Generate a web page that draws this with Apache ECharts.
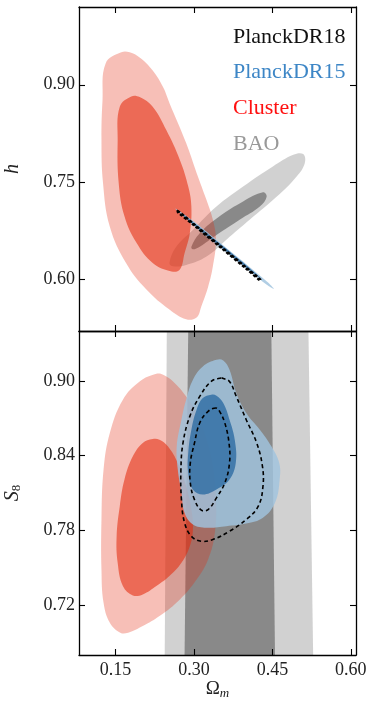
<!DOCTYPE html>
<html><head><meta charset="utf-8">
<script src="https://cdn.jsdelivr.net/npm/echarts@6/dist/echarts.min.js"></script>
<style>html,body{margin:0;padding:0;background:#fff}#c{width:374px;height:701px}</style>
</head><body><div id="c"></div>
<script>
// ---- tick labels ----
const xTicks = [0.15, 0.30, 0.45, 0.60];
const hTicks = [0.60, 0.75, 0.90];
const s8Ticks = [0.72, 0.78, 0.84, 0.90];

// ---- legend ----
const legendNames = ['PlanckDR18', 'PlanckDR15', 'Cluster', 'BAO'];
const legendColors = ['#111111', '#3d86c6', '#ff1010', '#999999'];

// ---- top panel (Omega_m, h) contours ----
const baoH95 = [[0.253,0.625],[0.266,0.650],[0.298,0.676],[0.343,0.712],[0.394,0.743],[0.451,0.774],[0.490,0.792],[0.509,0.793],[0.512,0.779],[0.496,0.758],[0.458,0.727],[0.407,0.692],[0.362,0.661],[0.324,0.635],[0.285,0.622],[0.260,0.620]];
const baoH68 = [[0.295,0.650],[0.311,0.671],[0.349,0.697],[0.394,0.720],[0.432,0.734],[0.439,0.727],[0.426,0.712],[0.388,0.692],[0.343,0.668],[0.311,0.650],[0.298,0.646]];
const clusterH95 = [[0.161,0.950],[0.131,0.933],[0.125,0.876],[0.123,0.815],[0.126,0.748],[0.139,0.681],[0.170,0.625],[0.209,0.584],[0.253,0.553],[0.285,0.538],[0.305,0.541],[0.314,0.558],[0.327,0.588],[0.336,0.619],[0.342,0.661],[0.336,0.692],[0.324,0.722],[0.305,0.764],[0.285,0.810],[0.253,0.872],[0.241,0.896],[0.221,0.922],[0.196,0.942],[0.177,0.950]];
const clusterH68 = [[0.180,0.882],[0.158,0.866],[0.154,0.815],[0.156,0.748],[0.167,0.697],[0.190,0.656],[0.221,0.625],[0.257,0.612],[0.273,0.615],[0.282,0.640],[0.292,0.671],[0.295,0.712],[0.289,0.743],[0.273,0.784],[0.247,0.830],[0.221,0.866],[0.196,0.881]];
const planck15H95 = [[0.264,0.709],[0.300,0.689],[0.350,0.656],[0.400,0.623],[0.440,0.596],[0.453,0.585],[0.440,0.591],[0.400,0.6165],[0.350,0.649],[0.300,0.682]];
const planck15H68 = [[0.275,0.703],[0.300,0.687],[0.350,0.6545],[0.400,0.6215],[0.430,0.600],[0.400,0.618],[0.350,0.6507],[0.300,0.6838]];
const planck18H = [[0.269,0.7055],[0.300,0.6850],[0.350,0.6515],[0.400,0.6180],[0.427,0.5995],[0.427,0.5975],[0.400,0.6160],[0.350,0.6495],[0.300,0.6830],[0.269,0.7035]];

// ---- bottom panel (Omega_m, S8) contours ----
const baoS95 = [[0.248,0.94],[0.519,0.94],[0.528,0.68],[0.244,0.68]];
const baoS68 = [[0.289,0.94],[0.448,0.94],[0.455,0.68],[0.282,0.68]];
const clusterS95 = [[0.228,0.9057],[0.196,0.8995],[0.164,0.8849],[0.139,0.8582],[0.127,0.8288],[0.123,0.7887],[0.123,0.7487],[0.127,0.7220],[0.139,0.7059],[0.159,0.6979],[0.174,0.6979],[0.202,0.7032],[0.234,0.7112],[0.273,0.7246],[0.305,0.7406],[0.327,0.7567],[0.340,0.7781],[0.342,0.8047],[0.336,0.8314],[0.324,0.8528],[0.305,0.8742],[0.285,0.8875],[0.260,0.8995],[0.241,0.9049]];
const clusterS68 = [[0.221,0.8534],[0.202,0.8502],[0.183,0.8394],[0.167,0.8208],[0.158,0.7994],[0.152,0.7753],[0.154,0.7540],[0.164,0.7353],[0.183,0.7278],[0.202,0.7286],[0.228,0.7353],[0.253,0.7433],[0.276,0.7540],[0.292,0.7673],[0.298,0.7807],[0.295,0.7967],[0.285,0.8154],[0.269,0.8342],[0.250,0.8475],[0.234,0.8528]];
const planck15S95 = [[0.343,0.9169],[0.317,0.9116],[0.298,0.9009],[0.285,0.8849],[0.276,0.8688],[0.267,0.8475],[0.269,0.8288],[0.276,0.8101],[0.282,0.7941],[0.298,0.7847],[0.324,0.7821],[0.362,0.7834],[0.400,0.7855],[0.432,0.7901],[0.455,0.8021],[0.464,0.8208],[0.463,0.8342],[0.448,0.8475],[0.426,0.8608],[0.400,0.8742],[0.381,0.8902],[0.368,0.9089],[0.356,0.9164]];
const planck15S68 = [[0.333,0.8889],[0.317,0.8862],[0.305,0.8769],[0.295,0.8608],[0.289,0.8422],[0.289,0.8261],[0.298,0.8128],[0.317,0.8088],[0.343,0.8128],[0.368,0.8208],[0.380,0.8342],[0.378,0.8528],[0.368,0.8688],[0.356,0.8822],[0.343,0.8881]];
const planck18S95 = [[0.352,0.9023],[0.333,0.8995],[0.311,0.8875],[0.292,0.8715],[0.279,0.8502],[0.275,0.8288],[0.276,0.8047],[0.282,0.7861],[0.295,0.7753],[0.314,0.7713],[0.336,0.7727],[0.368,0.7793],[0.400,0.7887],[0.423,0.7994],[0.432,0.8154],[0.431,0.8314],[0.420,0.8502],[0.400,0.8688],[0.381,0.8875],[0.368,0.8995],[0.356,0.9019]];
const planck18S68 = [[0.342,0.8782],[0.327,0.8755],[0.311,0.8662],[0.301,0.8502],[0.293,0.8342],[0.293,0.8181],[0.301,0.8047],[0.314,0.7962],[0.327,0.7967],[0.343,0.8061],[0.359,0.8181],[0.368,0.8342],[0.367,0.8502],[0.359,0.8662],[0.349,0.8755]];

const FONT = 'Liberation Serif';
const STY = {
  bao95: {fill:'rgba(128,128,128,0.36)'},
  bao68: {fill:'rgba(70,70,70,0.52)'},
  cl95: {fill:'rgba(228,44,15,0.30)'},
  cl68: {fill:'rgba(228,44,15,0.58)'},
  p15_95: {fill:'rgba(160,195,222,0.82)'},
  p15_68: {fill:'rgba(45,108,162,0.80)'},
  p18: {fill:null, stroke:'#000', lineWidth:1.6, lineDash:[4,3]},
  p18thin: {fill:null, stroke:'#000', lineWidth:2.2, lineDash:[3,2]}
};

function poly(points, panel, style, smooth) {
  return {
    type: 'custom', silent: true,
    xAxisIndex: panel * 2, yAxisIndex: panel * 2,
    data: points,
    renderItem: function (params, api) {
      if (params.dataIndex !== 0) return null;
      const pts = points.map(p => api.coord(p));
      return {type: 'polygon', shape: {points: pts, smooth: smooth}, style: Object.assign({}, style)};
    }
  };
}

function xAx(grid, pos, labels, name) {
  return {
    type: 'value', gridIndex: grid, position: pos, min: 0.08, max: 0.61, z: 10,
    axisLine: {show: true, onZero: false, lineStyle: {color: '#000', width: 1.3}},
    axisTick: {show: true, inside: true, length: 6, customValues: xTicks, lineStyle: {color: '#000', width: 1.1}},
    axisLabel: {show: labels, customValues: xTicks, margin: 6, color: '#222', fontFamily: FONT, fontSize: 18, formatter: v => v.toFixed(2)},
    splitLine: {show: false},
    name: name || '', nameLocation: 'middle', nameGap: 22,
    nameTextStyle: {rich: {
      o: {fontFamily: FONT, fontSize: 19, color: '#222'},
      m: {fontFamily: FONT, fontSize: 13, fontStyle: 'italic', color: '#222', padding: [8, 0, 0, 0]}
    }}
  };
}
function yAx(grid, pos, labels, min, max, ticks, name, rich) {
  return {
    type: 'value', gridIndex: grid, position: pos, min: min, max: max, z: 10,
    axisLine: {show: true, onZero: false, lineStyle: {color: '#000', width: 1.3}},
    axisTick: {show: true, inside: true, length: 6, customValues: ticks, lineStyle: {color: '#000', width: 1.1}},
    axisLabel: {show: labels, customValues: ticks, margin: 4, color: '#222', fontFamily: FONT, fontSize: 18, formatter: v => v.toFixed(2)},
    splitLine: {show: false},
    name: name || '', nameLocation: 'middle', nameGap: 56, nameRotate: 90,
    nameTextStyle: {rich: rich}
  };
}

const richY = {
  i: {fontFamily: FONT, fontSize: 20, fontStyle: 'italic', color: '#222'},
  s: {fontFamily: FONT, fontSize: 13, color: '#222', padding: [8, 0, 0, 0]}
};

const option = {
  animation: false,
  backgroundColor: '#fff',
  grid: [
    {left: 79, top: 7, width: 277, height: 324, containLabel: false, outerBoundsMode: 'none'},
    {left: 79, top: 331, width: 277, height: 324, containLabel: false, outerBoundsMode: 'none'}
  ],
  xAxis: [
    xAx(0, 'bottom', false), xAx(0, 'top', false),
    xAx(1, 'bottom', true, '{o|Ω}{m|m}'), xAx(1, 'top', false)
  ],
  yAxis: [
    yAx(0, 'left', true, 0.52, 1.02, hTicks, '{i|h}', richY), yAx(0, 'right', false, 0.52, 1.02, hTicks),
    yAx(1, 'left', true, 0.68, 0.94, s8Ticks, '{i|S}{s|8}', richY), yAx(1, 'right', false, 0.68, 0.94, s8Ticks)
  ],
  graphic: legendNames.map((n, i) => ({
    type: 'text', left: 233, top: [38, 73, 109.5, 145][i] - 12,
    style: {text: n, fill: legendColors[i], font: '22px "' + FONT + '"'}
  })),
  series: [
    poly(baoH95, 0, STY.bao95, 0.4), poly(baoH68, 0, STY.bao68, 0.4),
    poly(clusterH95, 0, STY.cl95, 0.4), poly(clusterH68, 0, STY.cl68, 0.4),
    poly(planck15H95, 0, STY.p15_95, 0.3), poly(planck15H68, 0, STY.p15_68, 0.3),
    poly(planck18H, 0, STY.p18thin, 0.3),
    poly(baoS95, 1, STY.bao95, 0), poly(baoS68, 1, STY.bao68, 0),
    poly(clusterS95, 1, STY.cl95, 0.4), poly(clusterS68, 1, STY.cl68, 0.4),
    poly(planck15S95, 1, STY.p15_95, 0.4), poly(planck15S68, 1, STY.p15_68, 0.4),
    poly(planck18S95, 1, STY.p18, 0.4), poly(planck18S68, 1, STY.p18, 0.4)
  ]
};
echarts.init(document.getElementById('c'), null, {renderer: 'canvas'}).setOption(option);
</script></body></html>
